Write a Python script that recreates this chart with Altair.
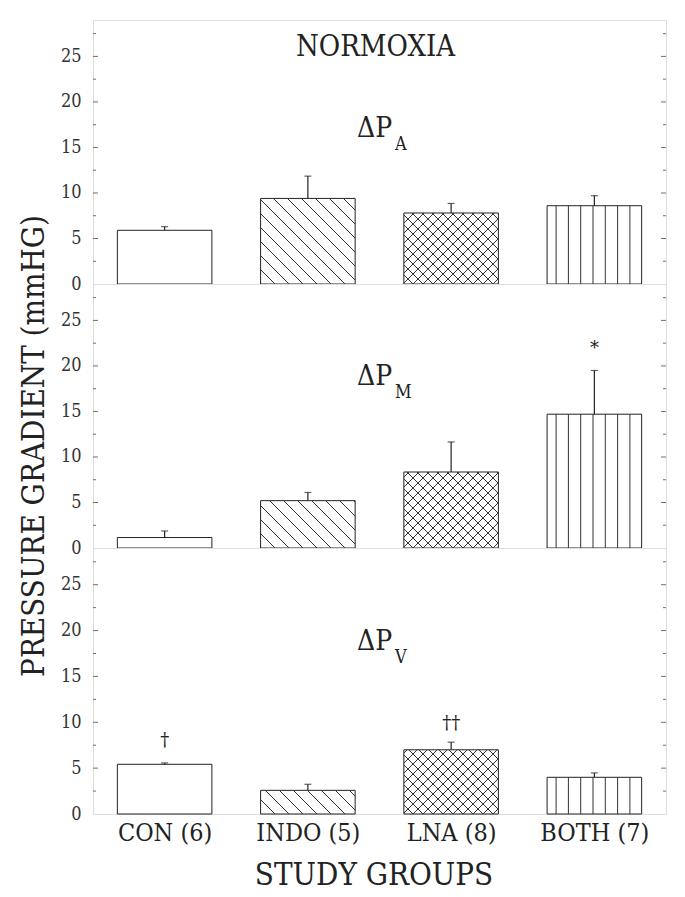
import altair as alt
import pandas as pd

# ---------------- data ----------------
groups = ["CON (6)", "INDO (5)", "LNA (8)", "BOTH (7)"]
group_pos = [1, 2, 3, 4]
panel_keys = ["A", "M", "V"]

mean_A = [5.9, 9.4, 7.8, 8.6]
err_A = [0.4, 2.45, 1.05, 1.1]
mean_M = [1.15, 5.2, 8.35, 14.7]
err_M = [0.72, 0.9, 3.3, 4.8]
mean_V = [5.42, 2.58, 7.0, 4.0]
err_V = [0.15, 0.66, 0.83, 0.48]

# significance markers: (panel, group index, y level, symbol)
mark_panel = ["M", "V", "V"]
mark_group = [4, 1, 3]
mark_level = [21.9, 8.0, 9.8]
mark_text = ["*", "\u2020", "\u2020\u2020"]

y_ticks_major = [5, 10, 15, 20, 25]
y_ticks_minor = [2.5, 7.5, 12.5, 17.5, 22.5, 27.5]
y_labels = [0, 5, 10, 15, 20, 25]

# ---------------- layout ----------------
W = 573
HEIGHTS = {"A": 264, "M": 264, "V": 266}
YMAX = 29
HALF = 0.33
FONT = "DejaVu Serif Condensed"
INK = "#222222"

means = {"A": mean_A, "M": mean_M, "V": mean_V}
errs = {"A": err_A, "M": err_M, "V": err_V}
hatch_kind = ["none", "back", "cross", "vert"]


def hatch_segments(p):
    """Decorative hatch lines of each bar, clipped to the bar, in data units."""
    kx = W / 4.0
    ky = HEIGHTS[p] / YMAX
    rows = []
    for g, v, kind in zip(group_pos, means[p], hatch_kind):
        x0 = (g - HALF - 0.5) * kx
        x1 = (g + HALF - 0.5) * kx
        h = v * ky
        segs = []
        if kind in ("back", "cross"):
            s = 14.0 if kind == "back" else 10.0
            k0 = int(x0 // s) - 2
            k1 = int((x1 + h) // s) + 2
            for k in range(k0, k1 + 1):
                c = k * s  # line: y = c - x
                a, b = max(x0, c - h), min(x1, c)
                if b - a > 0.5:
                    segs.append((a, c - a, b, c - b))
        if kind == "cross":
            s = 10.0
            k0 = int((-x1) // s) - 2
            k1 = int((h - x0) // s) + 2
            for k in range(k0, k1 + 1):
                c = k * s  # line: y = x + c
                a, b = max(x0, -c), min(x1, h - c)
                if b - a > 0.5:
                    segs.append((a, a + c, b, b + c))
        if kind == "vert":
            for j in range(7):
                xx = x0 + 9 + 12.3 * j
                segs.append((xx, 0, xx, h))
        for (ax, ay, bx, by) in segs:
            rows.append({"x": ax / kx + 0.5, "y": ay / ky,
                         "x2": bx / kx + 0.5, "y2": by / ky})
    return pd.DataFrame(rows)


def panel(p, show_x, y_title, normoxia):
    H = HEIGHTS[p]
    xs = alt.Scale(domain=[0.5, 4.5], nice=False, zero=False)
    ys = alt.Scale(domain=[0, YMAX], nice=False, zero=True)

    df = pd.DataFrame({"group": groups, "pos": group_pos,
                       "mean": means[p], "err": errs[p]})

    label_expr = "[" + ",".join("'%s'" % g for g in groups) + "][datum.value-1]"
    if show_x:
        xaxis = alt.Axis(values=group_pos, labelExpr=label_expr, title="STUDY GROUPS",
                         ticks=False, tickSize=0, domain=False, grid=False,
                         labelFont=FONT, labelFontSize=25, labelColor=INK, labelPadding=6,
                         titleFont=FONT, titleFontSize=31, titleFontWeight="normal",
                         titleColor=INK, titlePadding=15, titleX=W / 2 - 6,
                         titleAlign="center")
    else:
        xaxis = None

    yaxis_kw = dict(values=y_labels, ticks=False, tickSize=0, domain=False, grid=False,
                    labelFont=FONT, labelFontSize=18, labelColor="#333333", labelPadding=12)
    if y_title:
        yaxis = alt.Axis(title="PRESSURE GRADIENT (mmHG)", titleFont=FONT, titleFontSize=31,
                         titleFontWeight="normal", titleColor=INK, titleAngle=270,
                         titleX=-50, titleY=161.5, titleBaseline="alphabetic",
                         titleAlign="center", **yaxis_kw)
    else:
        yaxis = alt.Axis(title=None, **yaxis_kw)

    base = alt.Chart(df)
    bars = base.transform_calculate(
        xl="datum.pos - %f" % HALF, xr="datum.pos + %f" % HALF
    ).mark_rect(fill="white", stroke=INK, strokeWidth=1).encode(
        x=alt.X("xl:Q", scale=xs, axis=xaxis),
        x2="xr:Q",
        y=alt.Y("mean:Q", scale=ys, axis=yaxis),
        y2=alt.datum(0),
    )

    hatch = alt.Chart(hatch_segments(p)).mark_rule(color="#333333", strokeWidth=1).encode(
        x=alt.X("x:Q", scale=xs), x2="x2:Q",
        y=alt.Y("y:Q", scale=ys), y2="y2:Q",
    )

    err_line = base.transform_calculate(top="datum.mean + datum.err").mark_rule(
        color=INK, strokeWidth=1.2).encode(
        x=alt.X("pos:Q", scale=xs), y=alt.Y("mean:Q", scale=ys), y2="top:Q")
    err_cap = base.transform_calculate(top="datum.mean + datum.err").mark_tick(
        color=INK, orient="horizontal", size=7, thickness=1.2).encode(
        x=alt.X("pos:Q", scale=xs), y=alt.Y("top:Q", scale=ys))

    tmaj = pd.DataFrame({"t": y_ticks_major})
    tmin = pd.DataFrame({"t": y_ticks_minor})
    tick_layers = []
    for side, sign in ((0.5, 1), (4.5, -1)):
        tick_layers.append(alt.Chart(tmaj).mark_tick(
            color="#333333", orient="horizontal", size=5, thickness=1, xOffset=2.5 * sign
        ).encode(x=alt.datum(side, scale=xs), y=alt.Y("t:Q", scale=ys)))
        tick_layers.append(alt.Chart(tmin).mark_tick(
            color="#333333", orient="horizontal", size=3, thickness=1, xOffset=1.5 * sign
        ).encode(x=alt.datum(side, scale=xs), y=alt.Y("t:Q", scale=ys)))

    # panel label  "ΔP" + subscript
    lab_main = {"A": 16.15, "M": 17.9, "V": 17.9}
    lab_sub = {"A": 14.7, "M": 16.5, "V": 16.5}
    lab_df = pd.DataFrame({"t": ["\u0394P"], "y": [lab_main[p]]})
    sub_df = pd.DataFrame({"t": [p], "y": [lab_sub[p]]})
    lab = alt.Chart(lab_df).mark_text(
        font=FONT, fontSize=28, color=INK, align="right", baseline="alphabetic"
    ).encode(x=alt.value(W * 0.522), y=alt.Y("y:Q", scale=ys), text="t:N")
    sub = alt.Chart(sub_df).mark_text(
        font=FONT, fontSize=18, color=INK, align="left", baseline="alphabetic"
    ).encode(x=alt.value(W * 0.527), y=alt.Y("y:Q", scale=ys), text="t:N")

    layers = [bars, hatch, err_line, err_cap] + tick_layers + [lab, sub]

    mk = pd.DataFrame({"panel": mark_panel, "pos": mark_group,
                       "y": mark_level, "t": mark_text})
    mk = mk[mk.panel == p]
    if len(mk):
        layers.append(alt.Chart(mk).mark_text(
            font="DejaVu Serif", fontSize=18, color="#222222", fill="#222222",
            baseline="middle"
        ).encode(x=alt.X("pos:Q", scale=xs), y=alt.Y("y:Q", scale=ys), text="t:N"))

    if normoxia:
        nm = pd.DataFrame({"t": ["NORMOXIA"], "y": [25.05]})
        layers.append(alt.Chart(nm).mark_text(
            font=FONT, fontSize=29, color=INK, baseline="alphabetic"
        ).encode(x=alt.value(W / 2 - 4), y=alt.Y("y:Q", scale=ys), text="t:N"))

    return alt.layer(*layers).properties(width=W, height=H)


chart = alt.vconcat(
    panel("A", False, False, True),
    panel("M", False, True, False),
    panel("V", True, False, False),
    spacing=0,
    bounds="flush",
).properties(
    padding={"top": 11, "left": 9, "right": 5, "bottom": 5}
).configure_view(
    stroke="#111111", strokeWidth=1.3
).configure(background="white")

chart.save("out.html", embed_options={"renderer": "svg", "actions": False})
